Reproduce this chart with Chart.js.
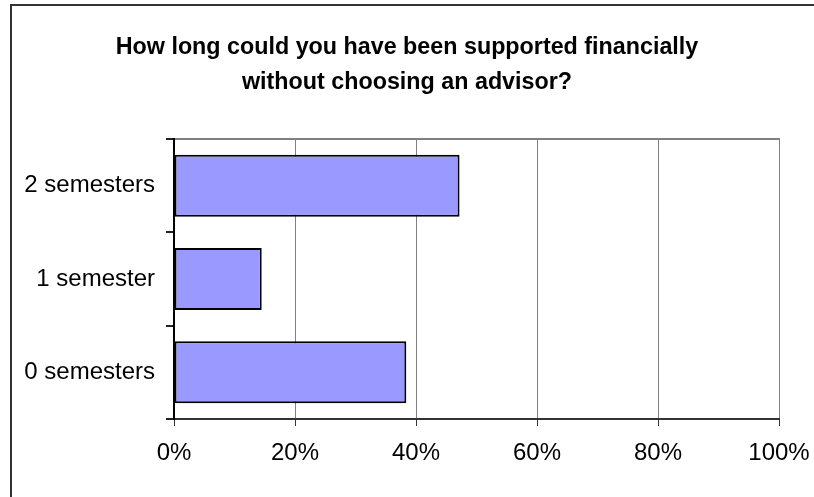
<!DOCTYPE html>
<html>
<head>
<meta charset="utf-8">
<script src="https://cdn.jsdelivr.net/npm/chart.js@4"></script>
<style>
  html, body { margin: 0; background: #fff; overflow: hidden; width: 814px; height: 497px; }
  #frame {
    position: absolute; left: 10px; top: 4px; width: 3000px; height: 3000px;
    border-left: 2px solid #333; border-top: 2px solid #333;
  }
  #chart { position: absolute; left: 0; top: 0; }
</style>
</head>
<body>
<div id="frame"></div>
<canvas id="chart" width="814" height="497"></canvas>
<script>
// data
const categories = ["2 semesters", "1 semester", "0 semesters"];
const shares = [47.2, 14.5, 38.4];
const xTicks = [0, 20, 40, 60, 80, 100];
const titleLines = [
  "How long could you have been supported financially",
  "without choosing an advisor?"
];

const fontFamily = "'Liberation Sans', Arial, sans-serif";

new Chart(document.getElementById("chart"), {
  type: "bar",
  data: {
    labels: categories,
    datasets: [{
      data: shares,
      backgroundColor: "#9999ff",
      borderColor: "#000",
      borderWidth: 2,
      borderSkipped: false,
      categoryPercentage: 1,
      barPercentage: 0.665
    }]
  },
  options: {
    indexAxis: "y",
    responsive: false,
    animation: false,
    devicePixelRatio: 1,
    layout: { padding: 0 },
    plugins: {
      legend: { display: false },
      tooltip: { enabled: false },
      title: {
        display: true,
        text: titleLines,
        color: "#000",
        font: { family: fontFamily, size: 23.3, weight: "bold", lineHeight: "35px" },
        padding: { top: 30, bottom: 39 }
      }
    },
    scales: {
      x: {
        type: "linear",
        min: 0,
        max: 100,
        afterBuildTicks: (scale) => {
          scale.ticks = xTicks.map((v) => ({ value: v }));
        },
        afterFit: (scale) => {
          scale.height = 78;
          scale.paddingRight = 35; // room right of the plot
        },
        ticks: {
          color: "#000",
          font: { family: fontFamily, size: 24 },
          padding: 13,
          maxRotation: 0,
          callback: (v) => v + "%"
        },
        grid: { color: "#808080", lineWidth: 1, tickColor: "#333", tickLength: 7 },
        border: { color: "#333", width: 2 }
      },
      x2: {
        type: "linear",
        position: "top",
        min: 0,
        max: 100,
        afterFit: (scale) => { scale.height = 0; },
        ticks: { display: false },
        grid: { display: false, drawTicks: false },
        border: { color: "#808080", width: 2 }
      },
      y: {
        type: "category",
        afterFit: (scale) => { scale.width = 174; },
        ticks: {
          color: "#000",
          font: { family: fontFamily, size: 24 },
          padding: 11
        },
        grid: {
          offset: true,
          drawOnChartArea: false,
          tickColor: "#222",
          tickLength: 8,
          lineWidth: 2
        },
        border: { color: "#000", width: 2 }
      }
    }
  }
});
</script>
</body>
</html>
